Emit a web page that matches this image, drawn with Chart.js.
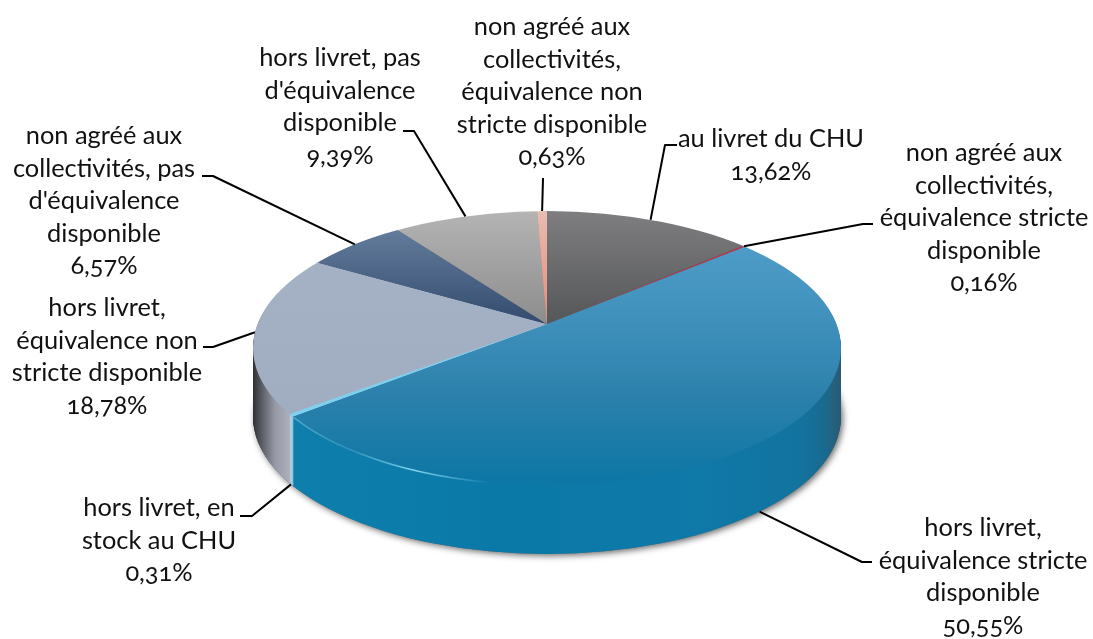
<!DOCTYPE html>
<html>
<head>
<meta charset="utf-8">
<script src="https://cdn.jsdelivr.net/npm/chart.js@4"></script>
<style>
  html, body { margin: 0; background: #fff; }
  #wrap { position: relative; width: 1093px; height: 639px; overflow: hidden; }
  canvas { display: block; }
  .lbl {
    position: absolute; transform: translate(-50%, -50%); white-space: nowrap;
    font: 25.4px Lato; color: #111; font-feature-settings: "onum" 1; font-variant-numeric: oldstyle-nums;
  }
</style>
</head>
<body>
<div id="wrap"><canvas id="pie" width="1093" height="639"></canvas></div>
<script>
// slices, clockwise from 12 o'clock
const categories = [
  ['au livret du CHU'],
  ['non agréé aux', 'collectivités,', 'équivalence stricte', 'disponible'],
  ['hors livret,', 'équivalence stricte', 'disponible'],
  ['hors livret, en', 'stock au CHU'],
  ['hors livret,', 'équivalence non', 'stricte disponible'],
  ['non agréé aux', 'collectivités, pas', "d'équivalence", 'disponible'],
  ['hors livret, pas', "d'équivalence", 'disponible'],
  ['non agréé aux', 'collectivités,', 'équivalence non', 'stricte disponible']
];
const values = [13.62, 0.16, 50.55, 0.31, 18.78, 6.57, 9.39, 0.63];

// label block: centre x, first line centre y
const labelX = [771, 984, 983, 159, 107, 104, 340, 552];
const labelY = [137, 151, 526, 506, 306, 134, 56, 25];
const lineHeight = 32.6;
// leader line: elbow points after the rim anchor
const leaderElbows = [
  [[665, 145], [677, 145]],
  [[863, 224], [873, 224]],
  [[862, 562], [872, 562]],
  [[252, 516], [240, 516]],
  [[213, 347], [203, 347]],
  [[213, 176], [202, 176]],
  [[414, 131], [403, 131]],
  [[543, 178]]
];
const leaderOnSide = [false, false, true, true, false, false, false, false];

// disc geometry, the tilt moves the hub above the ellipse centre
const cx = 547, cy = 348, rx = 294, ry = 137, depth = 69;
const tilt = -24 / 137;
const hubY = cy + ry * tilt;
const squash = ry / rx;

function project(a) {
  const x = Math.cos(a), y = Math.sin(a);
  const d = 1 + tilt * y;
  return { x: x * Math.sqrt(1 - tilt * tilt) / d, y: (y + tilt) / d };
}

// turn a pie angle into the angle seen from the hub, before the y squash
function screenAngle(a) {
  const p = project(a);
  return Math.atan2(p.y - tilt, p.x);
}

function vGrad(ctx, stops) {
  // y values given in page pixels, the context is squashed around the hub
  const y0 = stops[0][0], y1 = stops[stops.length - 1][0];
  const g = ctx.createLinearGradient(0, hubY + (y0 - hubY) / squash, 0, hubY + (y1 - hubY) / squash);
  stops.forEach(s => g.addColorStop((s[0] - y0) / (y1 - y0), s[1]));
  return g;
}

function hGrad(ctx, stops) {
  const x0 = stops[0][0], x1 = stops[stops.length - 1][0];
  const g = ctx.createLinearGradient(x0, 0, x1, 0);
  stops.forEach(s => g.addColorStop((s[0] - x0) / (x1 - x0), s[1]));
  return g;
}

function topColors(ctx) {
  return [
    vGrad(ctx, [[215, '#7d7d7f'], [325, '#555658']]),
    '#b8344a',
    vGrad(ctx, [[240, '#4e9dc8'], [330, '#3d8fba'], [400, '#2a80aa'], [485, '#0c76a5']]),
    '#7dd0ee',
    vGrad(ctx, [[215, '#a6b3c6'], [440, '#a0adc0']]),
    vGrad(ctx, [[230, '#647c9c'], [325, '#324a6c']]),
    vGrad(ctx, [[212, '#b4b4b4'], [325, '#8c8c8c']]),
    vGrad(ctx, [[212, '#e8bcb0'], [325, '#e58a78']])
  ];
}

function sideColors(ctx) {
  const grey = hGrad(ctx, [[252, '#2a2a30'], [262, '#5b5d66'], [275, '#9699a5'], [296, '#b6b9c6']]);
  const blue = hGrad(ctx, [[292, '#0e7fac'], [500, '#0a79a8'], [700, '#0f79a8'], [800, '#12739f'], [825, '#1a6a8f'], [841, '#2b5a70']]);
  return ['#555', '#b8344a', blue, '#a9cfdf', grey, '#324a6c', '#888', '#e58a78'];
}

function drawDisc(chart, colors, dy) {
  const ctx = chart.ctx;
  const arcs = chart.getDatasetMeta(0).data;
  ctx.save();
  ctx.beginPath();
  ctx.ellipse(cx, cy + dy, rx, ry, 0, 0, Math.PI * 2);
  ctx.clip();
  ctx.translate(cx, hubY + dy);
  ctx.scale(1, squash);
  ctx.translate(-cx, -hubY);
  arcs.forEach((arc, i) => {
    arc.options = {
      backgroundColor: colors[i], borderColor: colors[i], borderWidth: 0,
      offset: 0, spacing: 0, borderAlign: 'center', borderJoinStyle: 'round', circular: true
    };
    arc.draw(ctx);
  });
  ctx.restore();
}

const disc3d = {
  id: 'disc3d',
  afterDatasetsUpdate(chart) {
    // move the arcs on to the tilted disc, they get clipped by the ellipse when drawn
    chart.getDatasetMeta(0).data.forEach(arc => {
      const s = screenAngle(arc.startAngle);
      let e = screenAngle(arc.endAngle);
      while (e < s) e += Math.PI * 2;
      arc.trueMid = (arc.startAngle + arc.endAngle) / 2;
      arc.x = cx;
      arc.y = hubY;
      arc.startAngle = s;
      arc.endAngle = e;
      arc.circumference = e - s;
      arc.innerRadius = 0;
      arc.outerRadius = 900;
    });
  },
  beforeDatasetsDraw(chart) {
    const ctx = chart.ctx;
    // soft shadow under the disc
    ctx.save();
    ctx.shadowColor = 'rgba(60,60,60,0.75)';
    ctx.shadowBlur = 6;
    ctx.shadowOffsetX = 2;
    ctx.shadowOffsetY = 2;
    ctx.fillStyle = '#666';
    ctx.beginPath();
    ctx.ellipse(cx, cy + depth, rx, ry, 0, 0, Math.PI * 2);
    ctx.fill();
    ctx.restore();

    const side = sideColors(ctx);
    for (let d = depth; d > 0; d--) drawDisc(chart, side, d);
    drawDisc(chart, topColors(ctx), 0);

    // highlight on the front rim of the big slice
    ctx.save();
    const glow = ctx.createLinearGradient(290, 0, 490, 0);
    glow.addColorStop(0, 'rgba(120,205,235,0.55)');
    glow.addColorStop(0.3, 'rgba(120,205,235,0.25)');
    glow.addColorStop(0.62, 'rgba(140,220,245,0.9)');
    glow.addColorStop(1, 'rgba(140,220,245,0)');
    ctx.strokeStyle = glow;
    ctx.lineWidth = 1.6;
    ctx.beginPath();
    ctx.ellipse(cx, cy, rx, ry, 0, Math.PI * 0.53, Math.PI * 0.83);
    ctx.stroke();
    ctx.restore();
    return false;
  },
  afterDraw(chart) {
    const ctx = chart.ctx;
    const wrap = document.getElementById('wrap');
    chart.getDatasetMeta(0).data.forEach((arc, i) => {
      const p = project(arc.trueMid);
      const ax = cx + rx * p.x;
      const ay = cy + ry * p.y + (leaderOnSide[i] ? depth : 0);
      ctx.strokeStyle = '#000';
      ctx.lineWidth = 2;
      ctx.lineJoin = 'round';
      ctx.beginPath();
      ctx.moveTo(ax, ay);
      leaderElbows[i].forEach(pt => ctx.lineTo(pt[0], pt[1]));
      ctx.stroke();

      const lines = categories[i].concat(values[i].toFixed(2).replace('.', ',') + '%');
      lines.forEach((t, k) => {
        const el = document.createElement('div');
        el.className = 'lbl';
        el.textContent = t;
        el.style.left = labelX[i] + 'px';
        el.style.top = (labelY[i] + k * lineHeight) + 'px';
        wrap.appendChild(el);
      });
    });
  }
};

new Chart(document.getElementById('pie'), {
  type: 'pie',
  data: {
    labels: categories.map(c => c.join(' ')),
    datasets: [{ data: values, borderWidth: 0 }]
  },
  options: {
    responsive: false,
    animation: false,
    events: [],
    plugins: { legend: { display: false }, tooltip: { enabled: false } }
  },
  plugins: [disc3d]
});
</script>
</body>
</html>
